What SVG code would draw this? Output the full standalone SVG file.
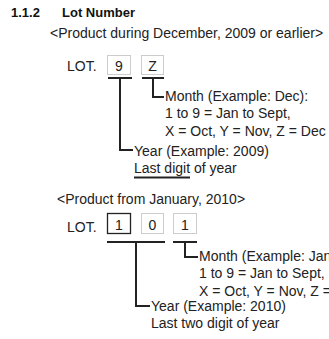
<svg xmlns="http://www.w3.org/2000/svg" width="329" height="339" viewBox="0 0 329 339">
<style>
text{font-family:"Liberation Sans",Arial,sans-serif;font-size:14px;fill:#222}
.h{font-weight:bold;font-size:13px;fill:#111}
.bx{fill:#fff;stroke:#999;stroke-width:1;stroke-dasharray:1 1}
.bs{fill:#fff;stroke:#222;stroke-width:1.3}
.c{text-anchor:middle}
.ln{fill:none;stroke:#222;stroke-width:2}
</style>
<g id="heading">
<text class="h" x="11" y="17">1.1.2</text>
<text class="h" x="62" y="17">Lot Number</text>
</g>
<g id="old-format">
<text x="50" y="38">&lt;Product during December, 2009 or earlier&gt;</text>
<text x="67" y="71">LOT.</text>
<g id="box-9"><rect class="bx" x="107.5" y="55.5" width="23" height="19"/><text class="c" x="119" y="71">9</text></g>
<g id="box-Z"><rect class="bx" x="141.5" y="55.5" width="22" height="19"/><text class="c" x="152.5" y="71">Z</text></g>
<g id="month-old"><text x="165" y="101">Month (Example: Dec):</text><text x="165" y="118">1 to 9 = Jan to Sept,</text><text x="165" y="136">X = Oct, Y = Nov, Z = Dec</text></g>
<g id="year-old"><text x="134" y="156">Year (Example: 2009)</text><text x="134" y="173">Last digit of year</text></g>
</g>
<g id="new-format">
<text x="57" y="204">&lt;Product from January, 2010&gt;</text>
<text x="67" y="232">LOT.</text>
<g id="box-1a"><rect class="bs" x="107.5" y="213.5" width="23" height="20"/><text class="c" x="119" y="230">1</text></g>
<g id="box-0"><rect class="bx" x="141.5" y="213.5" width="22" height="20"/><text class="c" x="152.5" y="230">0</text></g>
<g id="box-1b"><rect class="bx" x="173.5" y="213.5" width="23" height="20"/><text class="c" x="185" y="230">1</text></g>
<g id="month-new"><text x="199" y="261">Month (Example: Jan)</text><text x="199" y="278">1 to 9 = Jan to Sept,</text><text x="199" y="296">X = Oct, Y = Nov, Z = Dec</text></g>
<g id="year-new"><text x="151" y="311">Year (Example: 2010)</text><text x="151" y="328">Last two digit of year</text></g>
</g>
<g id="connectors">
<path class="ln" d="M108 78H132M120 78V150H133"/>
<path class="ln" d="M142 78H164M153 78V97H164"/>
<path class="ln" d="M134 177.5H190"/>
<path class="ln" d="M107 242H165M136 242V306H150"/>
<path class="ln" d="M173 242H197M185 242V257H198"/>
</g>
</svg>
